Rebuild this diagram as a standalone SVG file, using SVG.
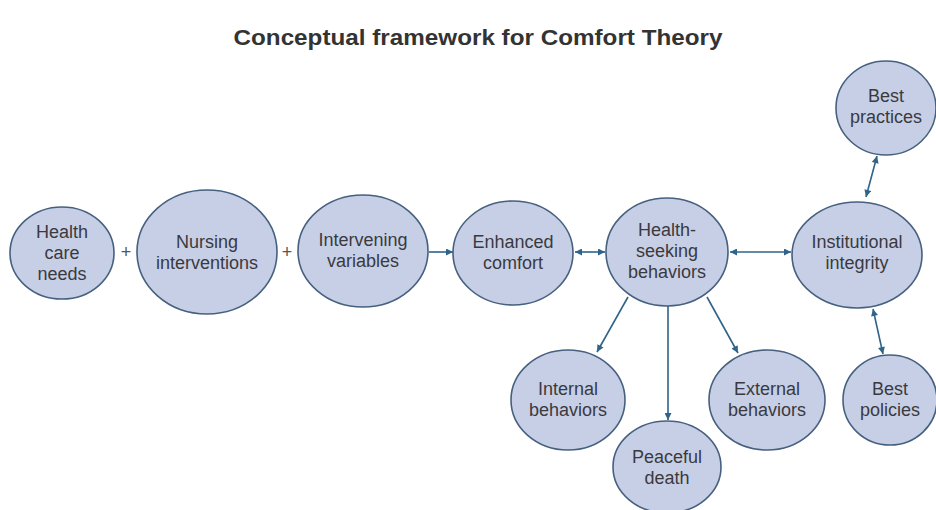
<svg xmlns="http://www.w3.org/2000/svg" width="936" height="510" viewBox="0 0 936 510">
<style>
.n{fill:#c7cfe7;stroke:#46607f;stroke-width:1.6}
.t{font-family:"Liberation Sans",Arial,sans-serif;font-size:18px;fill:#3a3a3e;text-anchor:middle}
.ttl{font-family:"Liberation Sans",Arial,sans-serif;font-size:22px;font-weight:bold;fill:#333;text-anchor:middle}
.c{stroke:#2f6389;stroke-width:1.6;fill:none}
.p{font-family:"Liberation Sans",Arial,sans-serif;font-size:18px;fill:#555;text-anchor:middle}
</style>
<defs>
<marker id="ae" viewBox="0 0 10 10" refX="10" refY="5" markerWidth="8" markerHeight="7" markerUnits="userSpaceOnUse" orient="auto"><path d="M0,0 L10,5 L0,10 z" fill="#2f6389"/></marker>
<marker id="as" viewBox="0 0 10 10" refX="0" refY="5" markerWidth="8" markerHeight="7" markerUnits="userSpaceOnUse" orient="auto"><path d="M10,0 L0,5 L10,10 z" fill="#2f6389"/></marker>
</defs>
<rect width="936" height="510" fill="#fff"/>
<text class="ttl" x="478" y="45" textLength="489" lengthAdjust="spacingAndGlyphs">Conceptual framework for Comfort Theory</text>
<g id="connectors">
<line class="c" x1="429" y1="252" x2="453" y2="252" marker-end="url(#ae)"/>
<line class="c" x1="575" y1="252" x2="605" y2="252" marker-start="url(#as)" marker-end="url(#ae)"/>
<line class="c" x1="730" y1="252" x2="791" y2="252" marker-start="url(#as)" marker-end="url(#ae)"/>
<line class="c" x1="877" y1="156" x2="866" y2="197" marker-start="url(#as)" marker-end="url(#ae)"/>
<line class="c" x1="873" y1="309" x2="883" y2="354" marker-start="url(#as)" marker-end="url(#ae)"/>
<line class="c" x1="628" y1="297" x2="597" y2="352" marker-end="url(#ae)"/>
<line class="c" x1="668" y1="306" x2="668" y2="420" marker-end="url(#ae)"/>
<line class="c" x1="707" y1="297" x2="738" y2="353" marker-end="url(#ae)"/>
<text class="p" x="126" y="258">+</text>
<text class="p" x="287" y="258">+</text>
</g>
<g id="health-care-needs"><ellipse class="n" cx="62" cy="253" rx="52" ry="46"/><text class="t" x="62" y="238">Health</text><text class="t" x="62" y="259">care</text><text class="t" x="62" y="280">needs</text></g>
<g id="nursing-interventions"><ellipse class="n" cx="207" cy="252" rx="70" ry="62"/><text class="t" x="207" y="248">Nursing</text><text class="t" x="207" y="269">interventions</text></g>
<g id="intervening-variables"><ellipse class="n" cx="363" cy="251" rx="65" ry="56"/><text class="t" x="363" y="246">Intervening</text><text class="t" x="363" y="267">variables</text></g>
<g id="enhanced-comfort"><ellipse class="n" cx="513" cy="253" rx="60" ry="52"/><text class="t" x="513" y="248">Enhanced</text><text class="t" x="513" y="269">comfort</text></g>
<g id="health-seeking-behaviors"><ellipse class="n" cx="667" cy="252" rx="61" ry="54"/><text class="t" x="667" y="236">Health-</text><text class="t" x="667" y="257">seeking</text><text class="t" x="667" y="278">behaviors</text></g>
<g id="institutional-integrity"><ellipse class="n" cx="857" cy="255" rx="65" ry="53"/><text class="t" x="857" y="248">Institutional</text><text class="t" x="857" y="269">integrity</text></g>
<g id="best-practices"><ellipse class="n" cx="886" cy="108" rx="50" ry="47"/><text class="t" x="886" y="102">Best</text><text class="t" x="886" y="123">practices</text></g>
<g id="internal-behaviors"><ellipse class="n" cx="568" cy="400" rx="57" ry="50"/><text class="t" x="568" y="395">Internal</text><text class="t" x="568" y="416">behaviors</text></g>
<g id="peaceful-death"><ellipse class="n" cx="667" cy="467" rx="54" ry="46"/><text class="t" x="667" y="463">Peaceful</text><text class="t" x="667" y="484">death</text></g>
<g id="external-behaviors"><ellipse class="n" cx="767" cy="400" rx="58" ry="50"/><text class="t" x="767" y="395">External</text><text class="t" x="767" y="416">behaviors</text></g>
<g id="best-policies"><ellipse class="n" cx="890" cy="400" rx="47" ry="45"/><text class="t" x="890" y="395">Best</text><text class="t" x="890" y="416">policies</text></g>
</svg>
